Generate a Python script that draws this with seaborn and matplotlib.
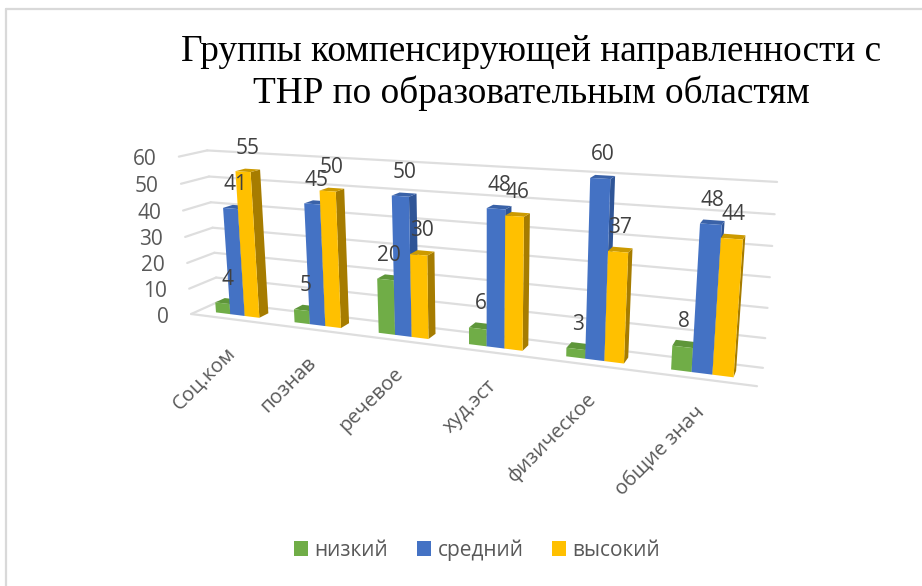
import numpy as np
import pandas as pd
import matplotlib
matplotlib.use("Agg")
import matplotlib.pyplot as plt
import seaborn as sns
from matplotlib.lines import Line2D
from matplotlib.patches import Polygon
from matplotlib.transforms import Transform, IdentityTransform

# Data
categories = ["Соц.ком", "познав", "речевое", "худ.эст", "физическое", "общие знач"]
levels = ["низкий", "средний", "высокий"]
low = [4, 5, 20, 6, 3, 8]
mid = [41, 45, 50, 48, 60, 48]
high = [55, 50, 30, 46, 37, 44]
y_ticks = [0, 10, 20, 30, 40, 50, 60]

front_colors = ["#70AD47", "#4472C4", "#FFC000"]
top_colors = ["#5E963A", "#3A62A8", "#CC9A00"]
side_colors = ["#4C7A30", "#2F5597", "#A67C00"]

W, H = 922, 586
sns.set_theme(style="white")
plt.rcParams["font.family"] = ["Open Sans", "DejaVu Sans"]

df = pd.DataFrame({
    "cat": categories * 3,
    "level": sum([[lv] * 6 for lv in levels], []),
    "value": low + mid + high,
})

# Camera for the fake 3D look: fit a 3x4 projection to the corners of the box
x0, x1 = -0.5, 5.5
world = [(x0, 0, 0), (x1, 0, 0), (x0, 0, 1), (x1, 0, 1), (x0, 60, 1), (x1, 60, 1), (x0, 60, 0)]
pixels = [(192, 313), (757, 387), (217, 303), (763, 367), (208, 150), (777, 182), (178, 157)]
rows = []
for (a, b, c), (u, v) in zip(world, pixels):
    v = H - v
    rows.append([a, b, c, 1, 0, 0, 0, 0, -u * a, -u * b, -u * c, -u])
    rows.append([0, 0, 0, 0, a, b, c, 1, -v * a, -v * b, -v * c, -v])
P = np.linalg.svd(np.array(rows, dtype=float))[2][-1].reshape(3, 4)


def project(x, v, z):
    q = P @ np.array([x, v, z, 1.0])
    return q[:2] / q[2]


class Plane(Transform):
    # data (x, value) at a fixed depth -> display pixels
    input_dims = 2
    output_dims = 2
    is_affine = False

    def __init__(self, z):
        super().__init__()
        self.z = z

    def transform_non_affine(self, values):
        values = np.asarray(values, dtype=float)
        pts = np.column_stack([values[:, 0], values[:, 1], np.full(len(values), self.z), np.ones(len(values))])
        q = pts @ P.T
        return q[:, :2] / q[:, 2:]


fig = plt.figure(figsize=(W / 100, H / 100), dpi=100, facecolor="white")
ax = fig.add_axes([0, 0, 1, 1])

sns.barplot(data=df, x="cat", y="value", hue="level", hue_order=levels,
            palette=front_colors, saturation=1, width=0.56, gap=0, linewidth=0, ax=ax)
ax.set_xlabel("")
ax.set_ylabel("")

z_front, z_back = 0.30, 0.66
none = IdentityTransform()
grid_color = "#DEDEDE"

# walls and floor
for v in y_ticks:
    ax.plot([x0, x1], [v, v], color=grid_color, lw=1.6, transform=Plane(1.0), zorder=1, clip_on=False)
    a, b = project(x0, v, 0), project(x0, v, 1)
    ax.add_line(Line2D([a[0], b[0]], [a[1], b[1]], color=grid_color, lw=1.6, transform=none, zorder=1))
ax.plot([x0, x1], [0, 0], color=grid_color, lw=1.6, transform=Plane(0.0), zorder=1, clip_on=False)

# bars: the fronts come from seaborn, top and side faces are built on them
front_plane = Plane(z_front)
bars = []
for i, cont in enumerate(ax.containers):
    for bar in cont:
        bars.append((bar.get_x(), i, bar))
for order, (_, i, bar) in enumerate(sorted(bars, key=lambda b: b[0])):
    xa, xb, top = bar.get_x(), bar.get_x() + bar.get_width(), bar.get_height()
    zo = 3 + order * 0.01
    side = [project(xb, 0, z_front), project(xb, 0, z_back), project(xb, top, z_back), project(xb, top, z_front)]
    roof = [project(xa, top, z_front), project(xb, top, z_front), project(xb, top, z_back), project(xa, top, z_back)]
    ax.add_patch(Polygon(side, closed=True, fc=side_colors[i], ec="none", transform=none, zorder=zo))
    ax.add_patch(Polygon(roof, closed=True, fc=top_colors[i], ec="none", transform=none, zorder=zo))
    bar.set_transform(front_plane)
    bar.set_zorder(zo + 0.001)
    bar.set_clip_on(False)
    # data label
    ax.annotate(f"{top:.0f}", xy=((xa + xb) / 2, top), xycoords=Plane((z_front + z_back) / 2),
                xytext=(0, 22), textcoords="offset pixels", ha="center", va="center",
                fontsize=15, color="#404040", zorder=10)

# value axis labels
left_plane = Plane(0.0)
for v in y_ticks:
    ax.annotate(str(v), xy=(x0, v), xycoords=left_plane, xytext=(-22, -3), textcoords="offset pixels",
                ha="right", va="center", fontsize=15, color="#595959")

# category labels
for i, cat in enumerate(categories):
    ax.annotate(cat, xy=(i, 0), xycoords=left_plane, xytext=(-4, -24), textcoords="offset pixels",
                ha="right", va="top", rotation=45, rotation_mode="anchor",
                fontsize=14.5, color="#595959")

ax.set_xlim(0, 1)
ax.set_ylim(0, 1)
ax.axis("off")

sns.move_legend(ax, "center", bbox_to_anchor=(477 / W, 1 - 550 / H), ncol=3, frameon=False, title=None,
                fontsize=15, handlelength=0.67, handleheight=0.67, handletextpad=0.33, columnspacing=1.36,
                labelcolor="#595959")

fig.text(531 / W, 1 - 73 / H, "Группы компенсирующей направленности с\nТНР по образовательным областям",
         family="Liberation Serif", fontsize=26.8, color="black", ha="center", va="center", linespacing=1.25)

# chart frame of the screenshot
fig.add_artist(Line2D([6 / W, 6 / W], [0, 1 - 9 / H], color="#D9D9D9", lw=1.6))
fig.add_artist(Line2D([6 / W, 1], [1 - 9 / H, 1 - 9 / H], color="#D9D9D9", lw=1.6))

fig.savefig("out.png", dpi=100)
